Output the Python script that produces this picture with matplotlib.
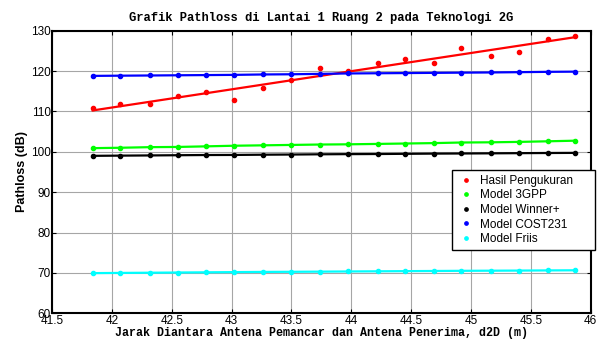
import numpy as np
import matplotlib.pyplot as plt

# jarak d2D (m) tiap titik ukur
jarak = [41.84, 42.07, 42.32, 42.55, 42.79, 43.02, 43.26, 43.50, 43.74,
         43.97, 44.22, 44.45, 44.69, 44.92, 45.17, 45.40, 45.64, 45.87]

# pathloss (dB)
pengukuran = [110.8, 111.8, 111.9, 113.7, 114.8, 112.8, 115.7, 117.8, 120.8,
              119.9, 121.9, 122.9, 121.9, 125.8, 123.8, 124.8, 127.9, 128.8]
model_3gpp = [100.9, 101.0, 101.15, 101.2, 101.35, 101.5, 101.6, 101.7, 101.8,
              101.85, 101.95, 102.05, 102.15, 102.3, 102.35, 102.45, 102.6, 102.75]
model_winner = [99.0, 99.05, 99.1, 99.15, 99.2, 99.22, 99.28, 99.32, 99.38,
                99.42, 99.45, 99.5, 99.55, 99.58, 99.62, 99.66, 99.7, 99.73]
model_cost231 = [118.8, 118.85, 118.9, 118.95, 119.0, 119.05, 119.15, 119.2, 119.3,
                 119.4, 119.45, 119.5, 119.55, 119.6, 119.65, 119.72, 119.8, 119.85]
model_friis = [69.95, 70.0, 70.05, 70.1, 70.15, 70.2, 70.25, 70.28, 70.32,
               70.36, 70.4, 70.44, 70.48, 70.52, 70.55, 70.58, 70.62, 70.65]

x_ticks = np.arange(41.5, 46.01, 0.5)
x_labels = ['41.5', '42', '42.5', '43', '43.5', '44', '44.5', '45', '45.5', '46']
y_ticks = np.arange(60, 131, 10)

fig = plt.figure(figsize=(6.01, 3.43), dpi=100)
ax = fig.add_axes([0.0865, 0.0866, 0.8965, 0.824])

x = np.array(jarak)
# garis regresi linier hasil pengukuran
p = np.polyfit(x, pengukuran, 1)
ax.plot(x, np.polyval(p, x), '-', color='red', lw=1.6)
ax.plot(x, pengukuran, '.', color='red', ms=6, label='Hasil Pengukuran')

models = [(model_3gpp, (0, 1, 0), 'Model 3GPP'),
          (model_winner, 'black', 'Model Winner+'),
          (model_cost231, 'blue', 'Model COST231'),
          (model_friis, 'cyan', 'Model Friis')]
for y, c, name in models:
    ax.plot(x, y, '-', color=c, lw=1.6)
    ax.plot(x, y, '.', color=c, ms=6, label=name)

ax.set_xlim(41.5, 46)
ax.set_ylim(60, 130)
ax.set_xticks(x_ticks)
ax.set_xticklabels(x_labels)
ax.set_yticks(y_ticks)
ax.grid(True, color='0.65', lw=0.8)
ax.tick_params(direction='in', top=True, right=True, length=3, width=0.8,
               labelsize=8.5, pad=1)
for lbl in ax.get_xticklabels() + ax.get_yticklabels():
    lbl.set_fontfamily('Liberation Sans')
for s in ax.spines.values():
    s.set_linewidth(1.5)

ax.set_title('Grafik Pathloss di Lantai 1 Ruang 2 pada Teknologi 2G',
             fontfamily='Liberation Mono', fontweight='bold', fontsize=8.7, pad=7)
ax.set_xlabel('Jarak Diantara Antena Pemancar dan Antena Penerima, d2D (m)',
              fontfamily='Liberation Mono', fontweight='bold', fontsize=8.4, labelpad=0)
ax.set_ylabel('Pathloss (dB)', fontfamily='Liberation Sans', fontweight='bold',
              fontsize=9, labelpad=2)

leg = ax.legend(loc='upper left', bbox_to_anchor=(0.7516, 0.268, 0.2384, 0.2364),
                bbox_transform=fig.transFigure, borderaxespad=0, mode='expand',
                fancybox=False, edgecolor='black', framealpha=1,
                prop={'family': 'Liberation Sans', 'size': 8.5},
                handlelength=1.6, handletextpad=0.4, labelspacing=0.22,
                borderpad=0.4, markerscale=0.8)
leg.get_frame().set_linewidth(1.0)

fig.savefig('out.png', dpi=100)
